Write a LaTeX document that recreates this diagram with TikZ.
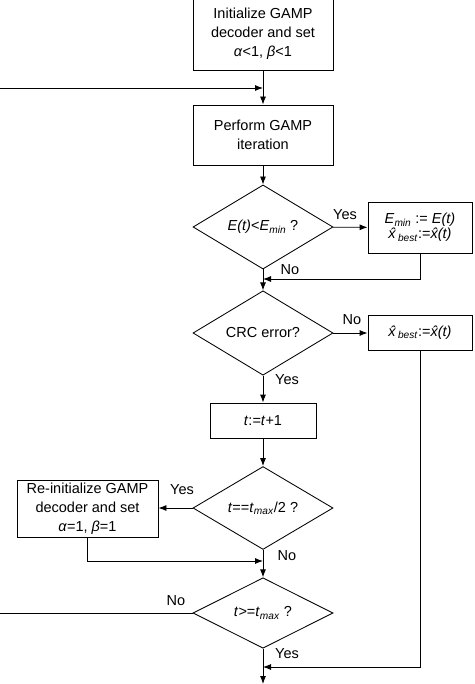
\documentclass[tikz,border=0pt]{standalone}
\usepackage{fontspec}
\setmainfont{Liberation Sans}
\usetikzlibrary{shapes.geometric,arrows.meta,positioning}

\begin{document}
\begin{tikzpicture}[x=1pt,y=-1pt,line width=0.85pt,
  >={Latex[length=8pt,width=6pt]},
  every node/.style={font=\fontsize{14.5}{19}\selectfont},
  blk/.style={draw,align=center,inner sep=0pt},
  dec/.style={draw,diamond,minimum width=140pt,minimum height=70pt,inner sep=0pt}]
\useasboundingbox (0,0) rectangle (474,684);
\node[blk,minimum width=140pt,minimum height=72pt] (init) at (263,34) {Initialize GAMP\\decoder and set\\\textit{α}<1, \textit{β}<1};
\node[blk,minimum width=140pt,minimum height=60pt] (gamp) at (263,135) {Perform GAMP\\iteration};
\node[dec] (emincheck) at (263,227) {\textit{E(t)}<\textit{E}\textsubscript{\textit{min}} ?};
\node[blk,minimum width=104pt,minimum height=51pt] (emin) at (420,227.5) {\textit{E}\textsubscript{\textit{min}} := \textit{E(t)}\\[-4pt]\textit{\^{x}}\textsubscript{\textit{best}}:=\textit{\^{x}(t)}};
\node[dec] (crc) at (263,333) {CRC error?};
\node[blk,minimum width=104pt,minimum height=35pt] (best) at (420,332.5) {\textit{\^{x}}\textsubscript{\textit{best}}:=\textit{\^{x}(t)}};
\node[blk,minimum width=106pt,minimum height=35pt] (inc) at (263,420.5) {\textit{t}:=\textit{t}+1};
\node[dec] (half) at (263,508) {\textit{t}==\textit{t}\textsubscript{\textit{max}}/2 ?};
\node[blk,minimum width=141pt,minimum height=57pt] (reinit) at (87.5,508.5) {Re-initialize GAMP\\decoder and set\\\textit{α}=1, \textit{β}=1};
\node[dec] (stop) at (263,613) {\textit{t}>=\textit{t}\textsubscript{\textit{max}} ?};
% join points
\coordinate (loopin) at (0,88);
\coordinate (join1) at (263,88);
\coordinate (join2) at (263,279);
\coordinate (join3) at (263,561);
\coordinate (join4) at (263,667);
\coordinate (loopout) at (0,613);
\coordinate (exit) at (263,684);
% connectors
\draw[->] (init) -- (gamp);
\draw[->] (loopin) -- (join1);
\draw[->] (gamp) -- (emincheck);
\draw[->] (emincheck) -- (emin);
\draw[->] (emincheck) -- (crc);
\draw[->] (emin.south) |- (join2);
\draw[->] (crc.east) -- (crc.east -| best.west);
\draw[->] (best.south) |- (join4);
\draw[->] (crc) -- (inc);
\draw[->] (inc) -- (half);
\draw[->] (half.west) -- (half.west -| reinit.east);
\draw[->] (reinit.south) |- (join3);
\draw[->] (half) -- (stop);
\draw (stop.west) -- (loopout);
\draw[->] (stop) -- (exit);
% labels
\node (yes1) at (345,215) {Yes};
\node (no1) at (290,270) {No};
\node (no2) at (352,320) {No};
\node (yes2) at (287,380) {Yes};
\node (yes3) at (182,490) {Yes};
\node (no3) at (287,556) {No};
\node (no4) at (176,601) {No};
\node (yes4) at (287,654) {Yes};
\end{tikzpicture}
\end{document}
